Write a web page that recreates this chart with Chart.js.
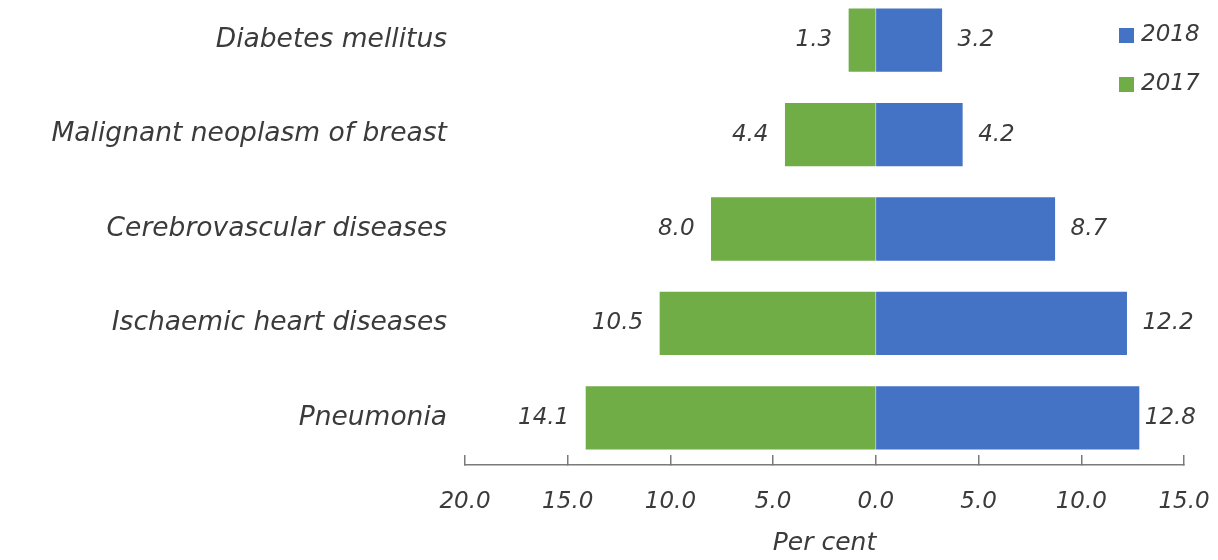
<!DOCTYPE html>
<html>
<head>
<meta charset="utf-8">
<script src="https://cdn.jsdelivr.net/npm/chart.js@4/dist/chart.umd.min.js"></script>
<style>
    html, body { margin: 0; padding: 0; background: #ffffff; overflow: hidden; }
    #wrap { position: absolute; left: 0; top: -7px; width: 1218px; height: 567px; }
</style>
</head>
<body>
<div id="wrap"><canvas id="chart"></canvas></div>
<script>
// Datos del gráfico
const categories = [
    'Diabetes mellitus',
    'Malignant neoplasm of breast',
    'Cerebrovascular diseases',
    'Ischaemic heart diseases',
    'Pneumonia'
];
const values2018 = [3.2, 4.2, 8.7, 12.2, 12.8];
const values2017 = [1.3, 4.4, 8.0, 10.5, 14.1];
const xTickValues = [-20, -15, -10, -5, 0, 5, 10, 15];
const legendOrder = ['2018', '2017'];

const FONT = "'DejaVu Sans', sans-serif";
const TEXT_COLOR = '#3b3b3b';
const AXIS_COLOR = '#7a7a7a';
const BLUE = '#4472C4';
const GREEN = '#70AD47';

// Etiquetas de valor al final de cada barra
const barLabels = {
    id: 'barLabels',
    afterDatasetsDraw(chart) {
        const ctx = chart.ctx;
        ctx.save();
        ctx.font = `italic 23px ${FONT}`;
        ctx.fillStyle = TEXT_COLOR;
        ctx.textBaseline = 'middle';
        chart.data.datasets.forEach((ds, i) => {
            chart.getDatasetMeta(i).data.forEach((bar, j) => {
                const text = ds.values[j].toFixed(1);
                if (ds.data[j] < 0) {
                    ctx.textAlign = 'right';
                    ctx.fillText(text, bar.x - 17, bar.y);
                } else {
                    // si no cabe, se mete hacia dentro como en el original
                    ctx.textAlign = 'left';
                    const w = ctx.measureText(text).width;
                    const x = Math.min(bar.x + 16, chart.width - 22 - w);
                    ctx.fillText(text, x, bar.y);
                }
            });
        });
        ctx.restore();
    }
};

// Leyenda dibujada en la esquina superior derecha
const cornerLegend = {
    id: 'cornerLegend',
    afterDraw(chart) {
        const ctx = chart.ctx;
        ctx.save();
        ctx.font = `italic 23px ${FONT}`;
        ctx.textBaseline = 'middle';
        ctx.textAlign = 'left';
        legendOrder.forEach((name, k) => {
            const ds = chart.data.datasets.find(d => d.label === name);
            const y = 42 + k * 49;
            const x = chart.width - 99;
            ctx.fillStyle = ds.backgroundColor;
            ctx.fillRect(x, y - 7, 15, 15);
            ctx.fillStyle = TEXT_COLOR;
            ctx.fillText(name, x + 22, y);
        });
        ctx.restore();
    }
};

const ctx = document.getElementById('chart').getContext('2d');
new Chart(ctx, {
    type: 'bar',
    data: {
        labels: categories,
        datasets: [
            {
                label: '2017',
                data: values2017.map(v => -v),
                values: values2017,
                backgroundColor: GREEN,
                borderWidth: 0,
                inflateAmount: 0.5
            },
            {
                label: '2018',
                data: values2018,
                values: values2018,
                backgroundColor: BLUE,
                borderWidth: 0,
                inflateAmount: 0.5
            }
        ]
    },
    options: {
        indexAxis: 'y',
        responsive: true,
        maintainAspectRatio: false,
        animation: false,
        devicePixelRatio: 1,
        layout: { padding: { left: 0, right: 34, top: 0, bottom: 0 } },
        datasets: {
            bar: {
                barPercentage: 0.66,
                categoryPercentage: 1
            }
        },
        plugins: {
            legend: { display: false },
            tooltip: { enabled: false }
        },
        scales: {
            y: {
                type: 'category',
                stacked: true,
                grid: { display: false, drawTicks: false },
                border: { display: false },
                ticks: {
                    color: TEXT_COLOR,
                    padding: 18,
                    font: { family: FONT, size: 26.5, style: 'italic' }
                },
                afterFit(scale) {
                    scale.width = 465;
                    scale.paddingTop = 0;
                    scale.paddingBottom = 0;
                }
            },
            x: {
                type: 'linear',
                stacked: true,
                min: -20,
                max: 15,
                afterBuildTicks(scale) {
                    scale.ticks = xTickValues.map(v => ({ value: v }));
                },
                grid: {
                    drawOnChartArea: false,
                    drawTicks: true,
                    tickLength: -10,
                    color: AXIS_COLOR,
                    lineWidth: 1.5
                },
                border: { display: true, color: AXIS_COLOR, width: 1.5 },
                ticks: {
                    color: TEXT_COLOR,
                    padding: 33,
                    font: { family: FONT, size: 23, style: 'italic' },
                    callback: function(value) {
                        return Math.abs(value).toFixed(1);
                    }
                },
                title: {
                    display: true,
                    text: 'Per cent',
                    color: TEXT_COLOR,
                    font: { family: FONT, size: 25, style: 'italic' },
                    padding: { top: 0, bottom: 2 }
                },
                afterFit(scale) {
                    scale.height = 95;
                    scale.paddingLeft = 0;
                    scale.paddingRight = 0;
                }
            }
        }
    },
    plugins: [barLabels, cornerLegend]
});
</script>
</body>
</html>
